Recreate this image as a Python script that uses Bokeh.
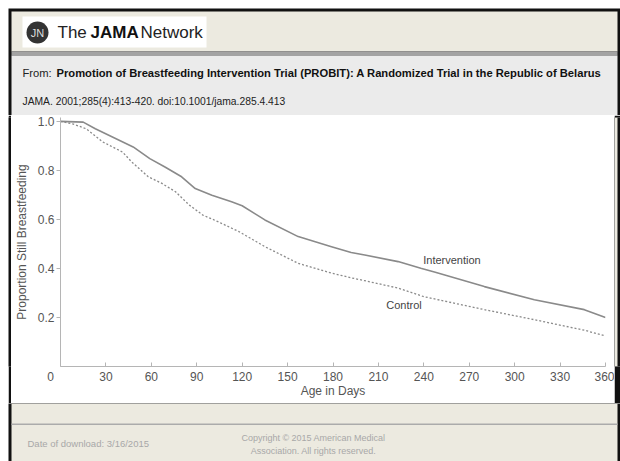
from bokeh.plotting import figure
from bokeh.models import Range1d, FixedTicker, Label, NumeralTickFormatter, AllLabels
from bokeh.layouts import column, row
from bokeh.embed import file_html
from bokeh.resources import INLINE

# ---------------- data ----------------
days_intervention = [0, 15, 23, 48, 59, 69, 80, 89, 100, 113, 120, 135, 157, 179, 192, 201, 223, 238, 247, 280, 313, 346, 360]
prop_intervention = [1.0, 0.997, 0.970, 0.896, 0.848, 0.814, 0.774, 0.726, 0.699, 0.672, 0.656, 0.598, 0.530, 0.489, 0.465, 0.455, 0.428, 0.401, 0.386, 0.326, 0.272, 0.232, 0.200]

days_control = [0, 8, 17, 28, 41, 47, 58, 67, 76, 85, 94, 104, 118, 135, 157, 179, 192, 201, 223, 240, 280, 313, 346, 360]
prop_control = [1.0, 0.990, 0.970, 0.916, 0.875, 0.835, 0.774, 0.747, 0.713, 0.659, 0.618, 0.591, 0.550, 0.489, 0.421, 0.381, 0.362, 0.350, 0.320, 0.285, 0.232, 0.191, 0.148, 0.125]

x_ticks = [0, 30, 60, 90, 120, 150, 180, 210, 240, 270, 300, 330, 360]
y_ticks = [0.2, 0.4, 0.6, 0.8, 1.0]

title_from = "From: "
title_bold = "Promotion of Breastfeeding Intervention Trial (PROBIT):  A Randomized Trial in the Republic of Belarus"
citation = "JAMA. 2001;285(4):413-420. doi:10.1001/jama.285.4.413"
download_text = "Date of download:  3/16/2015"
copyright_1 = "Copyright \u00a9 2015 American Medical"
copyright_2 = "Association. All rights reserved."

FONT = "Liberation Sans"
BEIGE = "#ECEAE0"
LIGHTGRAY = "#EBEBEB"
BLACK = "#111111"
LINE = "#8A8A8A"
TXT = "#555555"


def blank(width, height, xr, yr):
    f = figure(width=width, height=height, x_range=Range1d(*xr), y_range=Range1d(*yr),
               toolbar_location=None, output_backend="svg", min_border=0,
               x_axis_type=None, y_axis_type=None)
    f.outline_line_color = None
    f.grid.visible = False
    f.background_fill_color = BLACK
    f.border_fill_color = BLACK
    return f


def lab(fig, x, y, text, size, color="#222222", style="normal", align="left", baseline="middle"):
    fig.add_layout(Label(x=x, y=y, text=text, text_font=FONT, text_font_size=f"{size}px",
                         text_color=color, text_font_style=style, text_align=align,
                         text_baseline=baseline))


# ---------------- header ----------------
header = blank(612, 107, (0, 612), (107, 0))
header.quad(left=3, right=609, top=3, bottom=43, fill_color=BEIGE, line_color=None)
header.quad(left=3, right=609, top=43, bottom=47, fill_color="#A3A3A3", line_color=None)
header.quad(left=3, right=609, top=47, bottom=107, fill_color=LIGHTGRAY, line_color=None)
header.quad(left=14, right=198, top=8, bottom=39, fill_color="white", line_color=None)
header.circle(x=[29], y=[24], radius=11, fill_color="#333333", line_color=None)
lab(header, 29, 24, "JN", 11, color="#DDDDDD", align="center")
lab(header, 49, 24, "The", 17, color="#222222")
lab(header, 82, 24, "JAMA", 17, color="#111111", style="bold")
lab(header, 132, 24, "Network", 17, color="#222222")
lab(header, 14, 64, title_from, 11.2, color="#222222")
lab(header, 48, 64, title_bold, 11.2, color="#111111", style="bold")
lab(header, 14, 93, citation, 10.3, color="#222222")

# ---------------- chart ----------------
p = figure(width=603, height=288, x_range=Range1d(0, 360), y_range=Range1d(0, 1.016),
           toolbar_location=None, output_backend="svg",
           min_border_left=47, min_border_right=9, min_border_top=2, min_border_bottom=37,
           x_axis_label="Age in Days", y_axis_label="Proportion Still Breastfeeding")
p.outline_line_color = None
p.grid.visible = False
p.background_fill_color = "white"
p.border_fill_color = "white"

p.line(days_intervention, prop_intervention, line_color=LINE, line_width=1.6)
p.line(days_control, prop_control, line_color=LINE, line_width=1.3, line_dash="2 2")

p.xaxis.ticker = FixedTicker(ticks=x_ticks)
p.xaxis.major_label_policy = AllLabels()
p.xaxis.major_label_overrides = {0: "0" + "\u00a0" * 6}
p.yaxis.ticker = FixedTicker(ticks=y_ticks)
p.yaxis.formatter = NumeralTickFormatter(format="0.0")
p.xaxis.minor_tick_line_color = None
p.yaxis.minor_tick_line_color = None
for ax in (p.xaxis[0], p.yaxis[0]):
    ax.axis_line_color = "#B5B5B5"
    ax.major_tick_line_color = "#B5B5B5"
    ax.major_label_text_font = FONT
    ax.major_label_text_font_size = "12px"
    ax.major_label_text_color = TXT
    ax.axis_label_text_font = FONT
    ax.axis_label_text_font_size = "12px"
    ax.axis_label_text_font_style = "normal"
    ax.axis_label_text_color = TXT
p.xaxis.major_tick_in = 4
p.xaxis.major_tick_out = 0
p.xaxis.major_label_standoff = 3
p.xaxis.axis_label_standoff = -3
p.yaxis.major_tick_in = 0
p.yaxis.major_tick_out = 4
p.yaxis.major_label_standoff = 2
p.yaxis.axis_label_standoff = 6

p.add_layout(Label(x=239.6, y=0.435, text="Intervention", text_font=FONT,
                   text_font_size="11px", text_color="#444444", text_baseline="middle"))
p.add_layout(Label(x=215.2, y=0.25, text="Control", text_font=FONT,
                   text_font_size="11px", text_color="#444444", text_baseline="middle"))

left_strip = blank(3, 288, (0, 3), (0, 1))
right_strip = blank(6, 288, (0, 6), (0, 1))
right_strip.quad(left=0, right=3, bottom=0, top=1, fill_color=BEIGE, line_color=None)

# ---------------- footer ----------------
footer = blank(612, 58, (0, 612), (58, 0))
footer.quad(left=3, right=609, top=0, bottom=58, fill_color=BEIGE, line_color=None)
footer.quad(left=3, right=609, top=20, bottom=21.5, fill_color="#ABABAB", line_color=None)
lab(footer, 19, 40, download_text, 9.5, color="#A8A8A8")
lab(footer, 305, 34, copyright_1, 9, color="#A8A8A8", align="center")
lab(footer, 305, 47, copyright_2, 9, color="#A8A8A8", align="center")

layout = column(header, row(left_strip, p, right_strip, spacing=0), footer, spacing=0)
layout.margin = (8, 0, 0, 8)

with open("out.html", "w") as fh:
    fh.write(file_html(layout, INLINE))
